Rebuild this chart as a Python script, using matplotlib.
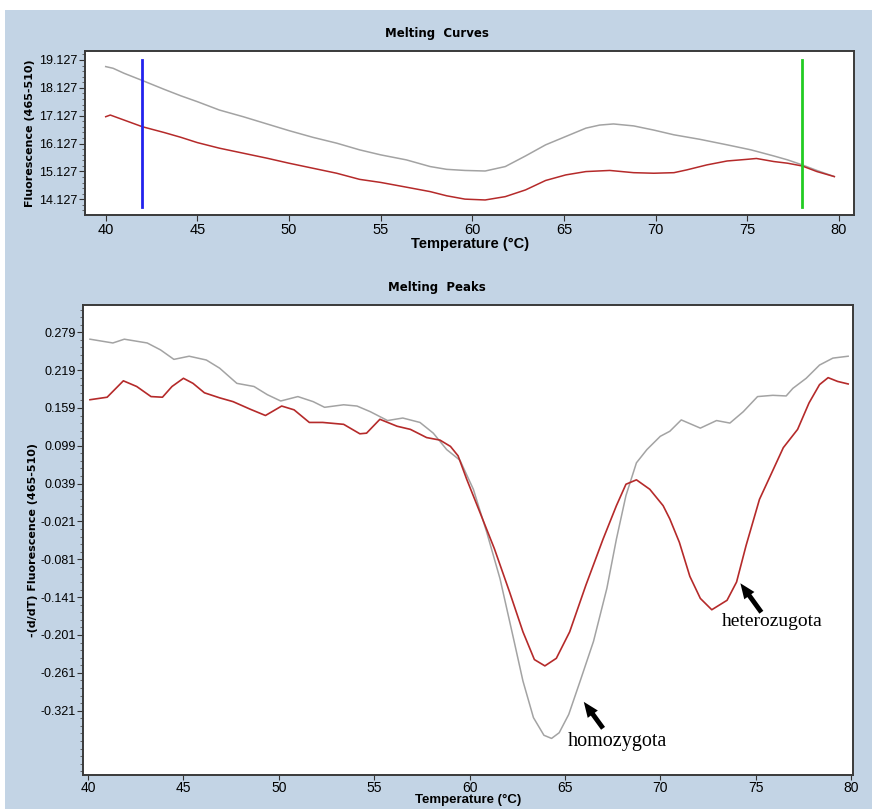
import numpy as np
import matplotlib
matplotlib.use("Agg")
import matplotlib.pyplot as plt
from matplotlib.patches import Rectangle
from matplotlib.ticker import FixedLocator, FixedFormatter

# ---------------- data ----------------
curve_gray_T = [40.0, 40.4, 41.0, 42.0, 43.2, 44.1, 45.0, 46.2, 47.5, 48.8, 50.0, 51.3, 52.6,
                53.85, 55.0, 56.4, 57.7, 58.6, 59.6, 60.7, 61.8, 62.9, 64.0, 65.1, 66.2, 66.95,
                67.7, 68.8, 69.9, 71.0, 72.4, 73.9, 75.2, 76.45, 77.2, 78.0, 78.8, 79.75]
curve_gray_F = [18.89, 18.83, 18.65, 18.39, 18.07, 17.84, 17.63, 17.33, 17.09, 16.83, 16.59, 16.35,
                16.14, 15.90, 15.72, 15.54, 15.30, 15.20, 15.16, 15.14, 15.30, 15.68, 16.08, 16.38,
                16.68, 16.79, 16.83, 16.76, 16.61, 16.44, 16.28, 16.08, 15.90, 15.68, 15.54, 15.36,
                15.16, 14.94]

curve_red_T = [40.0, 40.25, 41.0, 42.0, 43.2, 44.1, 45.0, 46.2, 47.5, 48.8, 50.0, 51.3, 52.6,
               53.85, 55.0, 56.4, 57.7, 58.6, 59.6, 60.7, 61.8, 62.9, 64.0, 65.1, 66.2, 67.5,
               68.8, 69.9, 71.0, 71.7, 72.8, 73.9, 75.0, 75.5, 76.45, 77.2, 78.0, 78.8, 79.75]
curve_red_F = [17.09, 17.15, 16.97, 16.73, 16.52, 16.35, 16.16, 15.96, 15.78, 15.60, 15.42, 15.24,
               15.06, 14.84, 14.73, 14.56, 14.40, 14.25, 14.13, 14.10, 14.22, 14.46, 14.80, 15.00,
               15.12, 15.16, 15.08, 15.06, 15.08, 15.18, 15.36, 15.50, 15.56, 15.59, 15.48, 15.42,
               15.32, 15.12, 14.94]

peak_gray_T = [40.1, 41.3, 41.9, 43.1, 43.8, 44.5, 45.3, 46.2, 46.9, 47.8, 48.7, 49.4, 50.1, 51.0,
               51.8, 52.4, 53.4, 54.1, 54.8, 55.7, 56.5, 57.4, 58.1, 58.8, 59.5, 60.2, 60.9, 61.6,
               62.3, 62.8, 63.35, 63.9, 64.3, 64.7, 65.2, 65.8, 66.5, 67.2, 67.7, 68.2, 68.75,
               69.3, 70.0, 70.5, 71.1, 72.1, 72.95, 73.65, 74.35, 75.1, 75.9, 76.6, 76.95, 77.65,
               78.35, 79.05, 79.85]
peak_gray_V = [0.268, 0.262, 0.268, 0.262, 0.251, 0.236, 0.241, 0.235, 0.222, 0.198, 0.193, 0.180,
               0.170, 0.177, 0.169, 0.160, 0.164, 0.162, 0.153, 0.139, 0.143, 0.136, 0.119, 0.093,
               0.076, 0.030, -0.038, -0.112, -0.206, -0.274, -0.332, -0.360, -0.365, -0.356,
               -0.327, -0.274, -0.211, -0.127, -0.049, 0.020, 0.072, 0.093, 0.114, 0.122, 0.140,
               0.127, 0.139, 0.135, 0.153, 0.177, 0.179, 0.178, 0.190, 0.206, 0.227, 0.238, 0.241]

peak_red_T = [40.1, 41.0, 41.85, 42.55, 43.3, 43.9, 44.4, 45.0, 45.5, 46.1, 46.9, 47.6, 48.5, 49.3,
              50.15, 50.8, 51.6, 52.3, 53.4, 54.25, 54.6, 55.3, 56.2, 56.9, 57.75, 58.45, 59.0,
              59.4, 59.85, 60.55, 61.3, 62.1, 62.8, 63.4, 63.95, 64.55, 65.25, 66.1, 67.0, 67.7,
              68.2, 68.75, 69.45, 70.15, 70.5, 71.0, 71.55, 72.1, 72.7, 73.5, 74.0, 74.5, 75.2,
              75.75, 76.45, 77.2, 77.8, 78.35, 78.8, 79.3, 79.85]
peak_red_V = [0.172, 0.176, 0.202, 0.193, 0.177, 0.176, 0.193, 0.206, 0.198, 0.183, 0.175, 0.169,
              0.157, 0.147, 0.162, 0.156, 0.136, 0.136, 0.133, 0.118, 0.119, 0.141, 0.130, 0.125,
              0.112, 0.108, 0.098, 0.083, 0.046, -0.007, -0.064, -0.133, -0.196, -0.240, -0.250,
              -0.238, -0.196, -0.122, -0.049, 0.004, 0.038, 0.045, 0.030, 0.004, -0.017, -0.054,
              -0.108, -0.143, -0.161, -0.146, -0.117, -0.059, 0.014, 0.050, 0.096, 0.125, 0.167,
              0.196, 0.207, 0.201, 0.197]

top_yticks = [14.127, 15.127, 16.127, 17.127, 18.127, 19.127]
top_ytick_labels = ["14.127", "15.127", "16.127", "17.127", "18.127", "19.127"]
bot_yticks = [-0.321, -0.261, -0.201, -0.141, -0.081, -0.021, 0.039, 0.099, 0.159, 0.219, 0.279]
bot_ytick_labels = ["-0.321", "-0.261", "-0.201", "-0.141", "-0.081", "-0.021",
                    "0.039", "0.099", "0.159", "0.219", "0.279"]
xticks = [40, 45, 50, 55, 60, 65, 70, 75, 80]
marker_left_T = 42.0
marker_right_T = 78.0

# ---------------- style ----------------
BG = "#c3d4e5"
GRAY = "#a3a3a3"
RED = "#b52a2a"
FRAME = "#3a3a3a"
NARROW = ["Liberation Sans Narrow", "Liberation Sans", "DejaVu Sans"]
SERIF = ["Liberation Serif", "DejaVu Serif"]

W, H = 872, 809
fig = plt.figure(figsize=(W / 100, H / 100), dpi=100, facecolor="white")
fig.patches.append(Rectangle((5 / W, 0), 1 - 5 / W, 1 - 10 / H, transform=fig.transFigure,
                             facecolor=BG, edgecolor="none", zorder=-10))


def style_axes(ax, xsize=10.5):
    ax.set_facecolor("white")
    for s in ax.spines.values():
        s.set_color(FRAME)
        s.set_linewidth(1.4)
    ax.tick_params(axis="both", which="major", direction="out", length=4, width=0.8,
                   color="#333333", pad=1.5)
    ax.tick_params(axis="y", which="minor", direction="out", length=2, width=0.6,
                   color="#555555")
    ax.tick_params(axis="x", which="minor", length=0)
    for lab in ax.get_xticklabels():
        lab.set_family(NARROW)
        lab.set_fontsize(xsize)
    for lab in ax.get_yticklabels():
        lab.set_family(NARROW)
        lab.set_fontsize(9)


# ---------------- top: Melting Curves ----------------
ax1 = fig.add_axes([85 / W, 1 - 215 / H, 769.3 / W, 164 / H])
ax1.plot(curve_gray_T, curve_gray_F, color=GRAY, lw=1.1)
ax1.plot(curve_red_T, curve_red_F, color=RED, lw=1.1)
ax1.plot([marker_left_T, marker_left_T], [13.86, 19.127], color="#2222ee", lw=2.0)
ax1.plot([marker_right_T, marker_right_T], [13.86, 19.127], color="#22cc22", lw=2.0)
ax1.set_xlim(38.87, 80.84)
ax1.set_ylim(13.56, 19.45)
ax1.xaxis.set_major_locator(FixedLocator(xticks))
ax1.yaxis.set_major_locator(FixedLocator(top_yticks))
ax1.yaxis.set_major_formatter(FixedFormatter(top_ytick_labels))
ax1.yaxis.set_minor_locator(FixedLocator(list(np.arange(13.727, 19.45, 0.2))))
style_axes(ax1)
ax1.set_xlabel("Temperature (°C)", fontsize=10.5, fontweight="bold", family=NARROW, labelpad=0)
ax1.set_ylabel("Fluorescence (465-510)", fontsize=8, fontweight="bold", labelpad=3)

fig.text(437 / W, 1 - 33 / H, "Melting  Curves", ha="center", va="center",
         fontsize=8.5, fontweight="bold")

# ---------------- bottom: Melting Peaks ----------------
ax2 = fig.add_axes([83.3 / W, 1 - 775 / H, 770 / W, 470.5 / H])
ax2.plot(peak_gray_T, peak_gray_V, color=GRAY, lw=1.1)
ax2.plot(peak_red_T, peak_red_V, color=RED, lw=1.2)
ax2.set_xlim(39.75, 80.12)
ax2.set_ylim(-0.423, 0.323)
ax2.xaxis.set_major_locator(FixedLocator(xticks))
ax2.yaxis.set_major_locator(FixedLocator(bot_yticks))
ax2.yaxis.set_major_formatter(FixedFormatter(bot_ytick_labels))
ax2.yaxis.set_minor_locator(FixedLocator(list(np.arange(-0.417, 0.323, 0.012))))
style_axes(ax2, xsize=10)
ax2.tick_params(axis="x", which="major", length=3.5, pad=0.5)
ax2.set_xlabel("Temperature (°C)", fontsize=9.5, fontweight="bold", family=NARROW, labelpad=-0.5)
ax2.set_ylabel("-(d/dT) Fluorescence (465-510)", fontsize=8, fontweight="bold", labelpad=2)

fig.text(437 / W, 1 - 287 / H, "Melting  Peaks", ha="center", va="center",
         fontsize=8.5, fontweight="bold")

# annotations
arrow_style = dict(arrowstyle="simple,head_length=1.1,head_width=0.9,tail_width=0.35",
                   color="black", lw=0, shrinkA=0, shrinkB=0)
ax2.annotate("", xy=(65.99, -0.307), xytext=(67.0, -0.349), arrowprops=arrow_style,
             annotation_clip=False)
ax2.annotate("", xy=(74.2, -0.119), xytext=(75.3, -0.165), arrowprops=arrow_style,
             annotation_clip=False)
ax2.text(67.75, -0.370, "homozygota", ha="center", va="center", fontsize=14.5, family=SERIF)
ax2.text(75.85, -0.180, "heterozugota", ha="center", va="center", fontsize=14, family=SERIF)

fig.savefig("out.png", dpi=100, facecolor=fig.get_facecolor())
